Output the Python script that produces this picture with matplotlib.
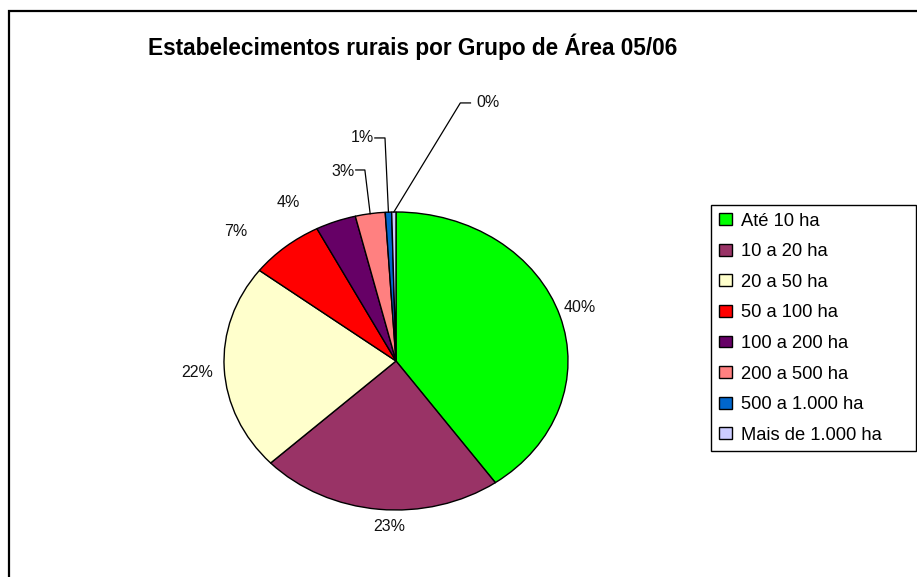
import matplotlib.pyplot as plt
import numpy as np
from matplotlib.patches import Rectangle

plt.rcParams['font.family'] = ['Liberation Sans', 'DejaVu Sans']

# dados (% dos estabelecimentos)
categorias = ['Até 10 ha', '10 a 20 ha', '20 a 50 ha', '50 a 100 ha',
              '100 a 200 ha', '200 a 500 ha', '500 a 1.000 ha', 'Mais de 1.000 ha']
valores = [40.2, 22.8, 22.4, 7.0, 3.8, 2.8, 0.6, 0.4]
cores = ['#00FF00', '#993366', '#FFFFCC', '#FF0000',
         '#660066', '#FF8080', '#0066CC', '#CCCCFF']

# posição dos rótulos (coordenadas do eixo da pizza)
pos_rotulos = [(1.070, 0.356), (-0.041, -1.114), (-1.158, -0.074), (-0.930, 0.872),
               (-0.626, 1.067), (-0.310, 1.275), (-0.193, 1.503), (0.532, 1.738)]
# linhas de chamada: indice -> (inicio x, cotovelo x, y)
chamadas = {5: (-0.234, -0.181, 1.282), 6: (-0.123, -0.064, 1.497), 7: (0.433, 0.374, 1.732)}

W, H = 917, 577
fig = plt.figure(figsize=(W / 100, H / 100), dpi=100)

# moldura do gráfico
fig.patches.append(Rectangle((9 / W, -0.1), 1.2, 1 - 11 / H + 0.1, transform=fig.transFigure,
                             fill=False, edgecolor='black', linewidth=1.6))

fig.text(413 / W, 1 - 47 / H, 'Estabelecimentos rurais por Grupo de Área 05/06',
         ha='center', va='center', fontsize=16.3, fontweight='bold')

ax = fig.add_axes([224 / W, 1 - 510 / H, 344 / W, 298 / H])
wedges, _ = ax.pie(valores, colors=cores, startangle=90, counterclock=False,
                   wedgeprops=dict(edgecolor='black', linewidth=1.0))
ax.set_aspect('auto')
ax.set_xlim(-1, 1)
ax.set_ylim(-1, 1)

total = sum(valores)
for i, (w, v) in enumerate(zip(wedges, valores)):
    tx, ty = pos_rotulos[i]
    ax.text(tx, ty, f'{round(v / total * 100):.0f}%', ha='center', va='center',
            fontsize=11.5, color='#111111', clip_on=False)
    if i in chamadas:
        ang = np.deg2rad((w.theta1 + w.theta2) / 2)
        lx, ex, ly = chamadas[i]
        ax.plot([lx, ex, np.cos(ang)], [ly, ly, np.sin(ang)], color='black',
                linewidth=0.9, clip_on=False)

leg = fig.legend(wedges, categorias, loc='upper left',
                 bbox_to_anchor=(711 / W, 1 - 453 / H, 205 / W, 248 / H), mode='expand',
                 fontsize=13.2, frameon=True, fancybox=False, edgecolor='black',
                 framealpha=1, handlelength=0.75, handleheight=0.62, handletextpad=0.45,
                 labelspacing=0.74, borderpad=0.42, borderaxespad=0)
leg.get_frame().set_linewidth(1.0)
for h in leg.legend_handles:
    h.set_linewidth(1.0)

fig.savefig('out.png', dpi=100)
